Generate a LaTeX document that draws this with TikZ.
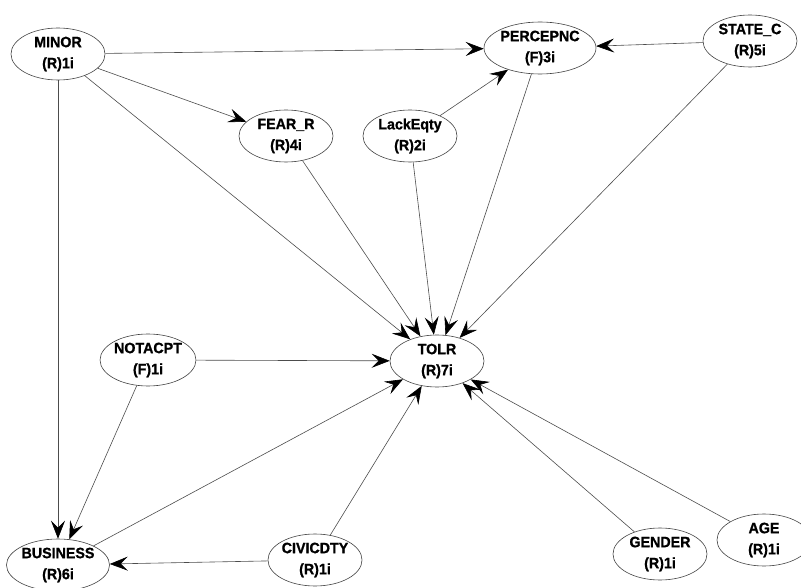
\documentclass[tikz,border=0pt]{standalone}
\usepackage{fontspec}
\setmainfont{Liberation Sans}
\newfontfamily\lblfont[FakeStretch=0.95,BoldFeatures={FakeBold=1}]{Liberation Sans}
\usetikzlibrary{arrows.meta,shapes.geometric}
\begin{document}
\begin{tikzpicture}[x=1pt,y=-1pt,
  var/.style={ellipse,draw=black!75,line width=0.6pt,minimum width=94pt,minimum height=52pt,inner sep=0pt,
    font=\lblfont\fontsize{15}{21}\selectfont\bfseries,align=center},
  link/.style={draw=black!70,line width=0.6pt,-{Stealth[length=18pt,width=14pt,inset=7pt,black]}}]
\useasboundingbox (0,0) rectangle (801,588);
\node[var] (minor) at (58,54) {MINOR\\(R)1i};
\node[var] (fear) at (286,136) {FEAR\_R\\(R)4i};
\node[var] (lack) at (410,136) {LackEqty\\(R)2i};
\node[var] (percep) at (540,48) {PERCEPNC\\(F)3i};
\node[var] (state) at (750,41) {STATE\_C\\(R)5i};
\node[var] (tolr) at (437,361) {TOLR\\(R)7i};
\node[var] (notacpt) at (148,360) {NOTACPT\\(F)1i};
\node[var] (business) at (58,565) {BUSINESS\\(R)6i};
\node[var] (civic) at (315,560) {CIVICDTY\\(R)1i};
\node[var] (gender) at (660,554) {GENDER\\(R)1i};
\node[var] (age) at (764,540) {AGE\\(R)1i};
\draw[link] (minor) -- (percep);
\draw[link] (minor) -- (fear);
\draw[link] (minor) -- (tolr);
\draw[link] (minor) -- (business);
\draw[link] (state) -- (percep);
\draw[link] (state) -- (tolr);
\draw[link] (lack) -- (percep);
\draw[link] (lack) -- (tolr);
\draw[link] (percep) -- (tolr);
\draw[link] (fear) -- (tolr);
\draw[link] (notacpt) -- (tolr);
\draw[link] (notacpt) -- (business);
\draw[link] (business) -- (tolr);
\draw[link] (civic) -- (tolr);
\draw[link] (civic) -- (business);
\draw[link] (gender) -- (tolr);
\draw[link] (age) -- (tolr);
\end{tikzpicture}
\end{document}
